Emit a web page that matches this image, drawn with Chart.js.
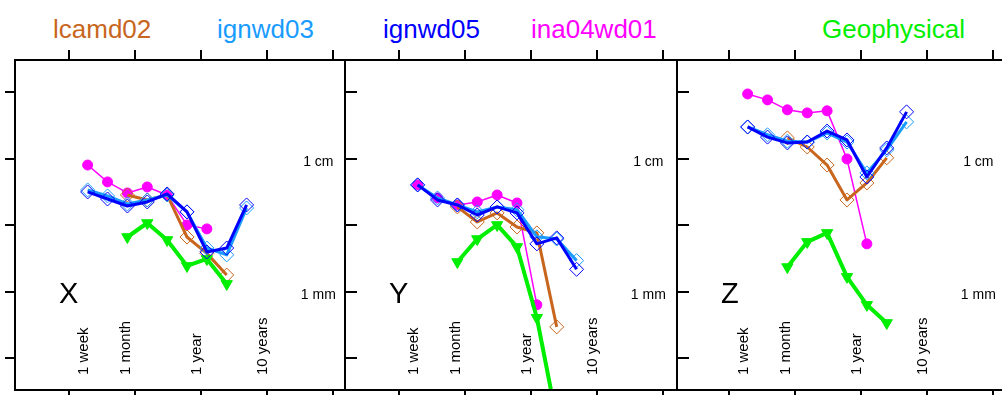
<!DOCTYPE html>
<html>
<head>
<meta charset="utf-8">
<script src="https://cdn.jsdelivr.net/npm/chart.js@4.4.1/dist/chart.umd.min.js"></script>
<style>
  html, body { margin: 0; padding: 0; background: #fff; overflow: hidden; }
  body { width: 1002px; height: 395px; position: relative; font-family: "Liberation Sans", Arial, sans-serif; }
  canvas { position: absolute; top: 40px; }
  .key { position: absolute; top: 16px; font-size: 26px; line-height: 26px; white-space: nowrap; }
</style>
</head>
<body>
<div class="key" style="left:53px;color:#c8661e">lcamd02</div>
<div class="key" style="left:217px;color:#1a9cff">ignwd03</div>
<div class="key" style="left:383px;color:#0000ff">ignwd05</div>
<div class="key" style="left:531px;color:#ff00ff">ina04wd01</div>
<div class="key" style="left:822px;color:#00ee00">Geophysical</div>

<canvas id="panelX" width="360" height="370" style="left:0px"></canvas>
<canvas id="panelY" width="362" height="370" style="left:330px"></canvas>
<canvas id="panelZ" width="362" height="370" style="left:662px"></canvas>

<script>
// lag in days, doubling from one week
const lagDays = [7, 14, 28, 56, 112, 224, 448, 896, 1792];

const xTickYears = [0.01, 0.1, 1, 10, 100];
const yTickMm = [0.3162, 1, 3.162, 10, 31.62];
const timeLabels = ['1 week', '1 month', '1 year', '10 years'];
const timeLabelYears = [7 / 365.25, 1 / 12, 1, 10];
const sizeLabels = ['1 mm', '1 cm'];
const sizeLabelMm = [1, 10];

// X component (mm)
const xLcamd02   = [null, null, 5.36, 4.92, 5.36, 2.59, 1.95, 1.34, null];
const xIgnwd03   = [5.85, 5.27, 4.59, 4.92, 5.36, 4.0, 2.14, 1.90, 4.28];
const xIgnwd05   = [5.65, 5.0, 4.43, 4.75, 5.46, 4.0, 2.0, 2.14, 4.51];
const xIna04wd01 = [9.0, 6.72, 5.55, 6.16, 5.36, 3.19, 2.98, null, null];
const xGeophys   = [null, null, 2.59, 3.30, 2.46, 1.57, 1.77, 1.15, null];

// Y component (mm)
const yLcamd02   = [null, null, 4.36, 3.36, 3.93, 3.08, 2.78, 0.546, null];
const yIgnwd03   = [6.38, 5.09, 4.51, 4.0, 4.36, 4.15, 2.6, 2.5, 1.72];
const yIgnwd05   = [6.38, 4.92, 4.51, 3.79, 4.36, 3.93, 2.3, 2.55, 1.48];
const yIna04wd01 = [6.38, 5.09, 4.51, 4.75, 5.36, 4.67, 0.80, null, null];
const yGeophys   = [null, null, 1.68, 2.50, 3.19, 2.18, 0.64, 0.11, null];

// Z component (mm)
const zLcamd02   = [null, null, 14.4, 12.3, 9.0, 4.92, 6.6, 10.2, null];
const zIgnwd03   = [17.4, 15.2, 13.6, 13.4, 15.7, 13.4, 7.85, 11.7, 19.0];
const zIgnwd05   = [17.4, 14.6, 13.2, 13.4, 16.2, 13.9, 7.32, 12.1, 22.6];
const zIna04wd01 = [30.8, 27.8, 23.4, 22.2, 23.0, 10.0, 2.30, null, null];
const zGeophys   = [null, null, 1.54, 2.38, 2.78, 1.30, 0.80, 0.585, null];

const FONT = '"Liberation Sans", Arial, sans-serif';

function points(values) {
  const pts = [];
  values.forEach((v, i) => {
    if (v !== null) pts.push({ x: lagDays[i] / 365.25, y: v });
  });
  return pts;
}

function series(label, values, color, width, style) {
  const filled = style !== 'rectRot';
  return {
    label: label,
    data: points(values),
    borderColor: color,
    borderWidth: width,
    borderJoinStyle: 'round',
    tension: 0,
    pointStyle: style,
    pointRadius: style === 'rectRot' ? 7 : (style === 'circle' ? 5 : 6.5),
    pointRotation: style === 'triangle' ? 180 : 0,
    pointBorderWidth: 1,
    pointBorderColor: color,
    pointBackgroundColor: filled ? color : 'rgba(0,0,0,0)'
  };
}

const framePlugin = {
  id: 'frame',
  afterDatasetsDraw(chart, args, opts) {
    const ctx = chart.ctx, a = chart.chartArea;
    const xs = chart.scales.x, ys = chart.scales.y;
    ctx.save();
    ctx.strokeStyle = '#000';
    ctx.lineWidth = 2;
    ctx.beginPath();
    xTickYears.forEach(v => {
      const px = Math.round(xs.getPixelForValue(v));
      ctx.moveTo(px, a.top); ctx.lineTo(px, a.top - 10);
      ctx.moveTo(px, a.bottom); ctx.lineTo(px, a.bottom + 10);
    });
    yTickMm.forEach(v => {
      const py = Math.round(ys.getPixelForValue(v));
      ctx.moveTo(a.left, py);
      ctx.lineTo(opts.outside ? a.left - 10 : a.left + 12, py);
    });
    ctx.stroke();
    ctx.strokeRect(a.left, a.top, a.right - a.left, a.bottom - a.top);

    ctx.fillStyle = '#000';
    // time labels, rotated, starting near the bottom
    ctx.font = '15px ' + FONT;
    ctx.textAlign = 'left';
    ctx.textBaseline = 'alphabetic';
    timeLabels.forEach((t, i) => {
      ctx.save();
      ctx.translate(xs.getPixelForValue(timeLabelYears[i]), a.bottom - 15);
      ctx.rotate(-Math.PI / 2);
      ctx.fillText(t, 0, 0);
      ctx.restore();
    });
    // size labels near the right edge
    ctx.font = '14px ' + FONT;
    ctx.textAlign = 'center';
    sizeLabels.forEach((t, i) => {
      ctx.fillText(t, xs.getPixelForValue(60), ys.getPixelForValue(sizeLabelMm[i]) + 7);
    });
    // component letter
    ctx.font = '29px ' + FONT;
    ctx.textAlign = 'left';
    ctx.fillText(opts.letter, a.left + 44, a.bottom - 87);
    ctx.restore();
  }
};

function makePanel(id, letter, outside, xMin, xMax, lc, i3, i5, ina, geo) {
  new Chart(document.getElementById(id), {
    type: 'line',
    data: {
      datasets: [
        series('ignwd05', i5, '#0000ff', 3, 'rectRot'),
        series('ignwd03', i3, '#1a9cff', 3, 'rectRot'),
        series('Geophysical', geo, '#00ee00', 4, 'triangle'),
        series('lcamd02', lc, '#c8661e', 3, 'rectRot'),
        series('ina04wd01', ina, '#ff00ff', 1.5, 'circle')
      ]
    },
    options: {
      responsive: false,
      animation: false,
      events: [],
      layout: { padding: { left: 15, right: 15, top: 20, bottom: 20 } },
      plugins: {
        legend: { display: false },
        tooltip: { enabled: false },
        frame: { letter: letter, outside: outside }
      },
      scales: {
        x: { type: 'logarithmic', min: xMin, max: xMax, display: false },
        y: { type: 'logarithmic', min: 0.1832, max: 55.46, display: false }
      }
    },
    plugins: [framePlugin]
  });
}

makePanel('panelX', 'X', true, Math.pow(10, -2.8182), Math.pow(10, 2.1818),
  xLcamd02, xIgnwd03, xIgnwd05, xIna04wd01, xGeophys);
makePanel('panelY', 'Y', false, Math.pow(10, -2.8182), Math.pow(10, 2.2121),
  yLcamd02, yIgnwd03, yIgnwd05, yIna04wd01, yGeophys);
makePanel('panelZ', 'Z', false, Math.pow(10, -2.7879), Math.pow(10, 2.2424),
  zLcamd02, zIgnwd03, zIgnwd05, zIna04wd01, zGeophys);
</script>
</body>
</html>
